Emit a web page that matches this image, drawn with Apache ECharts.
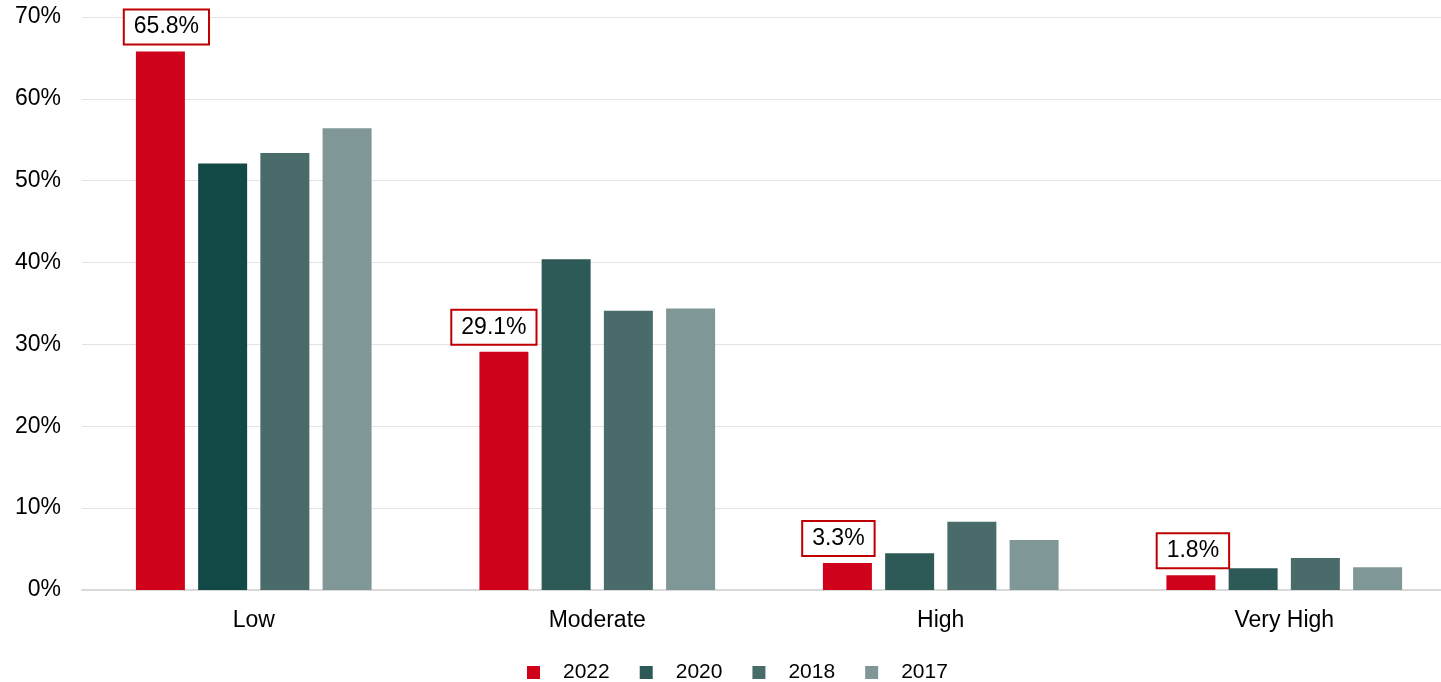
<!DOCTYPE html>
<html>
<head>
<meta charset="utf-8">
<script src="https://cdn.jsdelivr.net/npm/echarts@6/dist/echarts.min.js"></script>
<style>
html,body{margin:0;padding:0;background:#fff;}
#chart{width:1441px;height:682px;}
</style>
</head>
<body>
<div id="chart"></div>
<script>
const categories = ['Low', 'Moderate', 'High', 'Very High'];
const seriesNames = ['2022', '2020', '2018', '2017'];
const values2022 = [65.8, 29.1, 3.3, 1.8];
const values2020 = [52.1, 40.4, 4.5, 2.65];
const values2018 = [53.4, 34.1, 8.35, 3.9];
const values2017 = [56.4, 34.4, 6.1, 2.77];
const yTicks = [0, 10, 20, 30, 40, 50, 60, 70];

const colors = ['#d0021b', '#2d5957', '#496c6b', '#7f9797'];
const allValues = [values2022, values2020, values2018, values2017];

const font = 'Arial, "Liberation Sans", Helvetica, sans-serif';
const labelShift = [6, -10, -9, 2];

const series = seriesNames.map((name, si) => {
  const data = allValues[si].map((v, ci) => {
    const item = { value: v };
    if (si === 1 && ci === 0) item.itemStyle = { color: '#124845' };
    if (si === 0) item.label = { offset: [labelShift[ci], 0] };
    return item;
  });
  const s = {
    name: name,
    type: 'bar',
    data: data,
    barWidth: 49,
    barGap: '27%',
    itemStyle: { color: colors[si] },
    emphasis: { disabled: true }
  };
  if (si === 0) {
    s.label = {
      show: true,
      position: 'top',
      distance: 8,
      formatter: p => p.value + '%',
      fontFamily: font,
      fontSize: 23,
      color: '#000',
      backgroundColor: '#fff',
      borderColor: '#c00000',
      borderWidth: 2,
      padding: [5, 9, 5, 9]
    };
  }
  return s;
});

const chart = echarts.init(document.getElementById('chart'));
chart.setOption({
  animation: false,
  backgroundColor: '#fff',
  grid: { left: 82, right: -15, top: 17, bottom: 92, containLabel: false, outerBoundsMode: 'none' },
  legend: {
    data: seriesNames,
    top: 657,
    left: 522,
    icon: 'rect',
    itemWidth: 13,
    itemHeight: 13,
    itemGap: 30,
    textStyle: { fontFamily: font, fontSize: 21, color: '#000', padding: [0, 0, 0, 18] }
  },
  xAxis: {
    type: 'category',
    data: categories,
    axisTick: { show: false },
    axisLine: { lineStyle: { color: '#d9d9d9', width: 2 } },
    axisLabel: { fontFamily: font, fontSize: 23, color: '#000', margin: 19 }
  },
  yAxis: {
    type: 'value',
    min: yTicks[0],
    max: yTicks[yTicks.length - 1],
    interval: yTicks[1] - yTicks[0],
    axisLine: { show: false },
    axisTick: { show: false },
    splitLine: { lineStyle: { color: '#e3e3e3', width: 1 } },
    axisLabel: { fontFamily: font, fontSize: 23, color: '#000', margin: 21, padding: [6, 0, 0, 0], formatter: '{value}%' }
  },
  series: series
});
</script>
</body>
</html>
